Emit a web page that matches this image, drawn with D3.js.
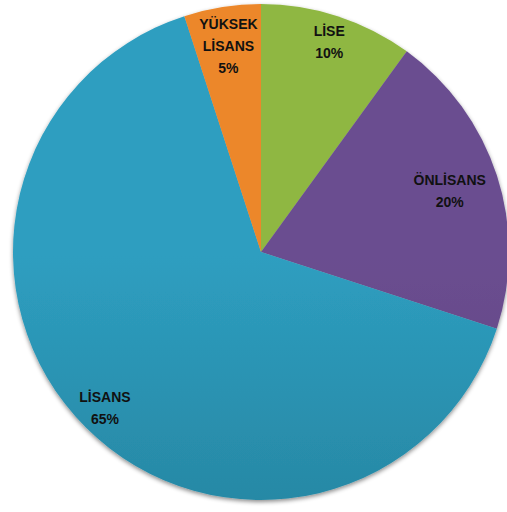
<!DOCTYPE html>
<html>
<head>
<meta charset="utf-8">
<script src="https://cdn.jsdelivr.net/npm/d3@7"></script>
<style>
  body { margin: 0; background: #fff; }
  svg { display: block; }
</style>
</head>
<body>
<div id="chart"></div>
<script>
// data
var categories = ["LİSE", "ÖNLİSANS", "LİSANS", "YÜKSEK LİSANS"];
var values = [10, 20, 65, 5];
var labelLines = [["LİSE"], ["ÖNLİSANS"], ["LİSANS"], ["YÜKSEK", "LİSANS"]];
var colorsTop = ["#8fb743", "#6b4e90", "#2e9ec0", "#ec8729"];
var colorsBottom = ["#789a35", "#543a73", "#20738a", "#d97820"];

var width = 507, height = 512;
var cx = 261, cy = 252, radius = 248;
// how far out each label sits (fraction of radius)
var labelPos = [0.89, 0.8, 0.89, 0.84];

var svg = d3.select("#chart").append("svg")
  .attr("width", width)
  .attr("height", height);

var defs = svg.append("defs");

// soft shadow under the pie
var filter = defs.append("filter").attr("id", "shadow")
  .attr("x", "-10%").attr("y", "-10%").attr("width", "120%").attr("height", "120%");
filter.append("feDropShadow")
  .attr("dx", 0).attr("dy", 2)
  .attr("stdDeviation", 2)
  .attr("flood-color", "#000")
  .attr("flood-opacity", 0.45);

categories.forEach(function (c, i) {
  var g = defs.append("linearGradient")
    .attr("id", "grad" + i)
    .attr("gradientUnits", "userSpaceOnUse")
    .attr("x1", 0).attr("y1", cy - radius)
    .attr("x2", 0).attr("y2", cy + radius);
  g.append("stop").attr("offset", "0%").attr("stop-color", colorsTop[i]);
  g.append("stop").attr("offset", "100%").attr("stop-color", colorsBottom[i]);
});

var pie = d3.pie().sort(null).value(function (d) { return d; });
var arcs = pie(values);

var arc = d3.arc().innerRadius(0).outerRadius(radius);

var g = svg.append("g")
  .attr("transform", "translate(" + cx + "," + cy + ")");

g.append("g")
  .attr("filter", "url(#shadow)")
  .selectAll("path")
  .data(arcs)
  .enter()
  .append("path")
  .attr("d", arc)
  .attr("fill", function (d, i) { return "url(#grad" + i + ")"; });

var labels = g.selectAll(".lbl")
  .data(arcs)
  .enter()
  .append("text")
  .attr("class", "lbl")
  .attr("transform", function (d, i) {
    var r = radius * labelPos[i];
    var p = d3.arc().innerRadius(r).outerRadius(r).centroid(d);
    return "translate(" + p[0] + "," + p[1] + ")";
  })
  .attr("text-anchor", "middle")
  .style("font-family", "'Liberation Sans Narrow', 'Liberation Sans', sans-serif")
  .style("font-weight", "bold")
  .style("font-size", "14px")
  .style("fill", "#111");

labels.each(function (d, i) {
  var lines = labelLines[i].concat([values[i] + "%"]);
  var t = d3.select(this);
  var lh = 22;
  var start = -((lines.length - 1) * lh) / 2 + 5;
  lines.forEach(function (l, j) {
    t.append("tspan")
      .attr("x", 0)
      .attr("y", start + j * lh)
      .text(l);
  });
});
</script>
</body>
</html>
